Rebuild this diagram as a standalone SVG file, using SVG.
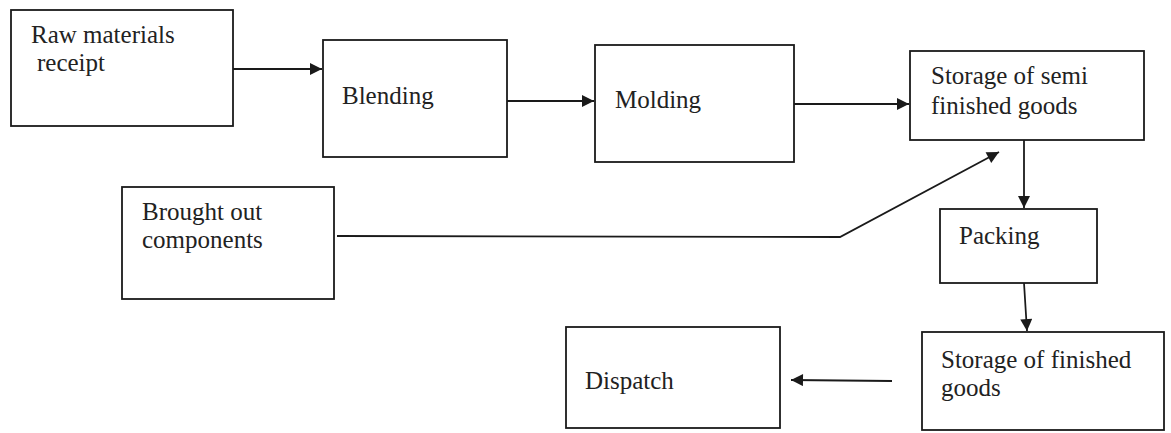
<svg xmlns="http://www.w3.org/2000/svg" width="1171" height="433" viewBox="0 0 1171 433">
<style>
.box{fill:#fff;stroke:#1a1a1a;stroke-width:1.8}
.t{font-family:"Liberation Serif","Times New Roman",serif;font-size:25px;fill:#222}
.c{fill:none;stroke:#1a1a1a;stroke-width:1.8}
</style>
<defs>
<marker id="ah" viewBox="0 0 10 10" refX="10" refY="5" markerWidth="14" markerHeight="12" markerUnits="userSpaceOnUse" orient="auto">
<path d="M0,0 L10,5 L0,10 z" fill="#1a1a1a"/>
</marker>
</defs>
<rect width="1171" height="433" fill="#fff"/>
<g id="raw"><rect class="box" x="11" y="10" width="222" height="116"/><text class="t" x="31" y="43">Raw materials</text><text class="t" x="37" y="71">receipt</text></g>
<g id="blending"><rect class="box" x="323" y="40" width="184" height="117"/><text class="t" x="342" y="104">Blending</text></g>
<g id="molding"><rect class="box" x="595" y="45" width="199" height="117"/><text class="t" x="615" y="108">Molding</text></g>
<g id="semi"><rect class="box" x="910" y="51" width="234" height="89"/><text class="t" x="931" y="84">Storage of semi</text><text class="t" x="931" y="114">finished goods</text></g>
<g id="brought"><rect class="box" x="122" y="187" width="212" height="112"/><text class="t" x="142" y="220">Brought out</text><text class="t" x="142" y="248">components</text></g>
<g id="packing"><rect class="box" x="940" y="209" width="157" height="74"/><text class="t" x="959" y="244">Packing</text></g>
<g id="finished"><rect class="box" x="922" y="332" width="242" height="98"/><text class="t" x="941" y="368">Storage of finished</text><text class="t" x="941" y="396">goods</text></g>
<g id="dispatch"><rect class="box" x="566" y="327" width="214" height="101"/><text class="t" x="585" y="389">Dispatch</text></g>
<g id="connectors">
<line class="c" x1="233" y1="69" x2="322" y2="69" marker-end="url(#ah)"/>
<line class="c" x1="507" y1="101" x2="594" y2="101" marker-end="url(#ah)"/>
<line class="c" x1="794" y1="104" x2="909" y2="104" marker-end="url(#ah)"/>
<line class="c" x1="1024" y1="140" x2="1024" y2="208" marker-end="url(#ah)"/>
<polyline class="c" points="337,236 840,237 999,152" marker-end="url(#ah)"/>
<line class="c" x1="1024" y1="283" x2="1027" y2="331" marker-end="url(#ah)"/>
<line class="c" x1="892" y1="381" x2="791" y2="380" marker-end="url(#ah)"/>
</g>
</svg>
